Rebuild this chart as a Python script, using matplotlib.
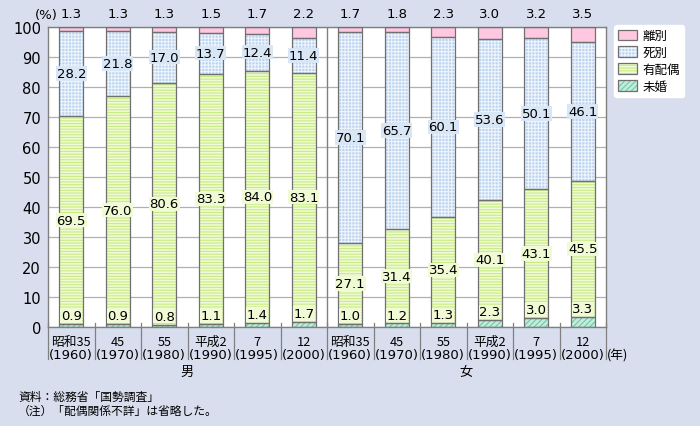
import matplotlib
matplotlib.use("Agg")
import matplotlib.pyplot as plt
import matplotlib.patches as mpatches
from matplotlib.legend_handler import HandlerTuple
import numpy as np

plt.rcParams['font.family'] = ['Noto Sans CJK JP', 'DejaVu Sans']

era_labels = ["昭和35", "45", "55", "平成2", "7", "12"] * 2
year_labels = ["(1960)", "(1970)", "(1980)", "(1990)", "(1995)", "(2000)"] * 2
groups = ["男", "女"]
series_names = ["未婚", "有配偶", "死別", "離別"]

mikon = [0.9, 0.9, 0.8, 1.1, 1.4, 1.7, 1.0, 1.2, 1.3, 2.3, 3.0, 3.3]
yuhaigu = [69.5, 76.0, 80.6, 83.3, 84.0, 83.1, 27.1, 31.4, 35.4, 40.1, 43.1, 45.5]
shibetsu = [28.2, 21.8, 17.0, 13.7, 12.4, 11.4, 70.1, 65.7, 60.1, 53.6, 50.1, 46.1]
ribetsu = [1.3, 1.3, 1.3, 1.5, 1.7, 2.2, 1.7, 1.8, 2.3, 3.0, 3.2, 3.5]

BG = '#D8DEEE'
fig = plt.figure(figsize=(7.0, 4.27), dpi=100, facecolor=BG)
ax = fig.add_axes([48/700, 1-328/427, (606-48)/700, 300/427])
ax.set_facecolor('white')

x = np.arange(len(mikon))
w = 0.52
styles = [
    dict(face='#C4ECDC', hatch='//////', hc='#70C8A8'),
    dict(face='#F0FAD4', hatch='------', hc='#C8EC84'),
    dict(face='#BCD4F0', hatch='+++++', hc='#EEF4FC'),
    dict(face='#FFC8E0', hatch=None, hc=None),
]
data = [mikon, yuhaigu, shibetsu, ribetsu]
bottom = np.zeros(len(x))
handles = []
plt.rcParams['hatch.linewidth'] = 0.8
for k, (vals, st, name) in enumerate(zip(data, styles, series_names)):
    vals = np.array(vals)
    if k == len(data) - 1:
        # top segment fills the remainder of the 100% bar (unknown status omitted)
        vals = 100.0 - bottom
    if st['hatch']:
        ax.bar(x, vals, w, bottom=bottom, color=st['face'], edgecolor=st['hc'],
               hatch=st['hatch'], linewidth=0, zorder=2)
        h1 = mpatches.Patch(facecolor=st['face'], edgecolor=st['hc'], hatch=st['hatch'], linewidth=0)
    else:
        ax.bar(x, vals, w, bottom=bottom, color=st['face'], linewidth=0, zorder=2)
        h1 = mpatches.Patch(facecolor=st['face'], linewidth=0)
    ax.bar(x, vals, w, bottom=bottom, fill=False, edgecolor='#707070', linewidth=0.9, zorder=3)
    h2 = mpatches.Patch(fill=False, edgecolor='#707070', linewidth=0.9)
    handles.append((h1, h2))
    bottom = bottom + vals

fs = 9.5
for i in range(len(x)):
    m, y_, s, r = mikon[i], yuhaigu[i], shibetsu[i], ribetsu[i]
    ax.text(x[i], m + 0.6, f"{m:.1f}", ha='center', va='bottom', fontsize=fs, zorder=5,
            family='DejaVu Sans',
            bbox=dict(boxstyle='square,pad=0.05', fc='#F0FAD4', ec='none'))
    ax.text(x[i], m + y_/2, f"{y_:.1f}", ha='center', va='center', fontsize=fs, zorder=5,
            family='DejaVu Sans',
            bbox=dict(boxstyle='square,pad=0.05', fc='#F0FAD4', ec='none'))
    ax.text(x[i], m + y_ + s/2, f"{s:.1f}", ha='center', va='center', fontsize=fs, zorder=5,
            family='DejaVu Sans',
            bbox=dict(boxstyle='square,pad=0.05', fc='#D8E6F6', ec='none'))
    ax.text(x[i], 102.2, f"{r:.1f}", ha='center', va='bottom', fontsize=fs, zorder=5,
            family='DejaVu Sans', clip_on=False)

ax.set_xlim(-0.5, 11.5)
ax.set_ylim(0, 100)
ax.set_yticks(np.arange(0, 101, 10))
ax.set_yticklabels([str(v) for v in range(0, 101, 10)], fontsize=10.5, family='DejaVu Sans')
ax.yaxis.grid(True, color='#B0B0B0', linewidth=0.9, zorder=1)
ax.set_axisbelow(True)
ax.tick_params(axis='y', length=0, pad=5)
ax.set_xticks([])
for sp in ax.spines.values():
    sp.set_color('#808080')
    sp.set_linewidth(1.0)

# separator between groups
ax.plot([5.5, 5.5], [0, 100], color='#808080', lw=1.0, zorder=4)

# lower category dividers
trans = ax.get_xaxis_transform()
for b in np.arange(-0.5, 12.0, 1.0):
    ax.plot([b, b], [0.015, -0.107], color='#808080', lw=0.9, transform=trans, clip_on=False)
for i in range(len(x)):
    ax.text(x[i], -0.047, era_labels[i], ha='center', va='center', fontsize=9.2, transform=trans)
    ax.text(x[i], -0.092, year_labels[i], ha='center', va='center', fontsize=9.5, transform=trans,
            family='DejaVu Sans')
ax.text(11.52, -0.092, "(年)", ha='left', va='center', fontsize=9.2, transform=trans)
ax.text(2.5, -0.148, groups[0], ha='center', va='center', fontsize=9.5, transform=trans)
ax.text(8.5, -0.148, groups[1], ha='center', va='center', fontsize=9.5, transform=trans)

fig.text(46/700, 1-15/427, "(%)", ha='center', va='center', fontsize=9.5, family='DejaVu Sans')

# legend
leg = fig.legend(handles=handles[::-1], labels=series_names[::-1],
                 handler_map={tuple: HandlerTuple(ndivide=1, pad=0)},
                 loc='upper left', bbox_to_anchor=(614/700, 1-26/427),
                 frameon=True, fontsize=9, handlelength=1.5, handleheight=0.95,
                 labelspacing=0.3, borderpad=0.35, handletextpad=0.4, borderaxespad=0,
                 fancybox=True)
leg.get_frame().set_facecolor('white')
leg.get_frame().set_edgecolor('white')
leg.get_frame().set_alpha(1)

fig.text(18/700, 1-397/427, "資料：総務省「国勢調査」", ha='left', va='center', fontsize=8.5)
fig.text(18/700, 1-411/427, "（注）「配偶関係不詳」は省略した。", ha='left', va='center', fontsize=8.5)

fig.savefig("out.png", dpi=100, facecolor=BG)
